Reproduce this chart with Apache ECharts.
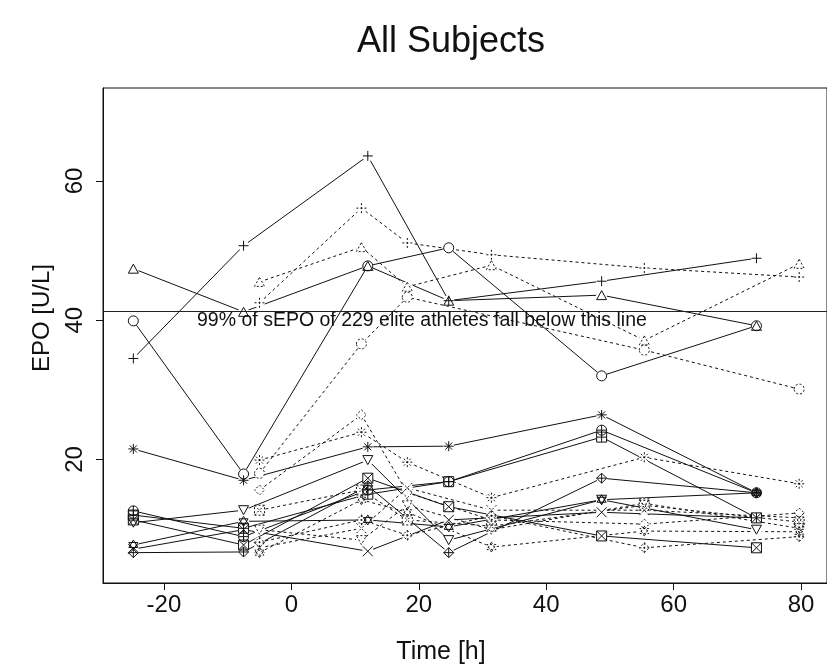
<!DOCTYPE html>
<html>
<head>
<meta charset="utf-8">
<script src="https://cdn.jsdelivr.net/npm/echarts@6/dist/echarts.min.js"></script>
<style>html,body{margin:0;padding:0;background:#fff}#c{width:827px;height:666px}</style>
</head>
<body>
<div id="c"></div>
<script>
// Sampling times (h)
const solidTimes  = [-24.8, -7.5, 12, 24.7, 48.7, 73];
const dottedTimes = [-5, 11, 18.2, 31.4, 55.4, 79.7];

// EPO [U/L] for subjects drawn with solid lines
const sTriangle = [47.4, 41.2, 47.8, 42.8, 43.6, 39.2];
const sCircle   = [39.9, 17.9, 47.8, 50.4, 32.0, 39.2];
const sPlus     = [34.5, 50.7, 63.6, 42.8, 45.6, 48.9];
const sStar     = [21.5, 17.0, 21.8, 21.9, 26.4, 15.2];
const sCirclePlus = [12.6, 8.9, 15.6, 16.8, 24.2, 15.2];
const sSquarePlus = [12.0, 10.1, 15.0, 16.8, 23.2, 11.6];
const sSquareX  = [11.3, 7.7, 17.3, 13.2, 9.0, 7.3];
const sDown     = [10.9, 12.7, 19.9, 8.4, 14.2, 9.9];
const sDavid    = [7.7, 11.1, 11.3, 10.3, 14.2, 15.2];
const sCross    = [7.1, 9.9, 6.8, 11.3, 12.4, 11.6];
const sDiamondPlus = [6.6, 6.7, 16.2, 6.6, 17.3, 15.2];

// EPO [U/L] for subjects drawn with dotted lines
const dPlus     = [42.5, 56.1, 51.1, 49.4, 47.5, 46.2];
const dTriangle = [45.5, 50.5, 44.8, 47.9, 37.1, 48.1];
const dCircle   = [18.0, 36.6, 43.3, null, 35.7, 30.1];
const dStar     = [19.9, 23.9, 19.6, 14.5, 20.3, 16.5];
const dDiamond  = [15.6, 26.4, 15.2, 11.3, 10.7, 12.3];
const dSquareX  = [12.7, 15.6, 11.3, 10.4, 13.4, 11.0];
const dDown     = [9.9, 8.4, 13.4, 9.9, 13.7, 10.1];
const dDiamondPlus = [8.1, 11.3, 9.1, 11.9, 7.3, 8.9];
const dDavid    = [6.6, 14.2, 12.4, 7.4, 9.7, 9.6];
const dCross    = [7.3, 10.1, 15.9, 12.7, 12.7, 11.6];

// Reference threshold
const refValue = 41.3;
const refText = '99% of sEPO of 229 elite athletes fall below this line';
const xTicks = [-20, 0, 20, 40, 60, 80];
const yTicks = [20, 40, 60];
const titleText = 'All Subjects';
const xName = 'Time [h]';
const yName = 'EPO [U/L]';

const SYM = {
  circle: 'path://M0,5A5,5,0,1,1,10,5A5,5,0,1,1,0,5Z',
  triangle: 'path://M5,0L10,9L0,9Z',
  plus: 'path://M5,0L5,10M0,5L10,5',
  cross: 'path://M0,0L10,10M10,0L0,10',
  diamond: 'path://M5,0L10,5L5,10L0,5Z',
  down: 'path://M0,0L10,0L5,9Z',
  squareX: 'path://M0,0L10,0L10,10L0,10ZM0,0L10,10M10,0L0,10',
  star: 'path://M5,0L5,10M0,5L10,5M1.5,1.5L8.5,8.5M8.5,1.5L1.5,8.5',
  diamondPlus: 'path://M5,0L10,5L5,10L0,5ZM5,0L5,10M0,5L10,5',
  circlePlus: 'path://M0,5A5,5,0,1,1,10,5A5,5,0,1,1,0,5ZM5,0L5,10M0,5L10,5',
  david: 'path://M5,0L9.5,7.5L0.5,7.5ZM5,10L0.5,2.5L9.5,2.5Z',
  squarePlus: 'path://M0,0L10,0L10,10L0,10ZM5,0L5,10M0,5L10,5'
};

const subjects = [
  {v: sTriangle, s: 'triangle', d: false},
  {v: sCircle, s: 'circle', d: false},
  {v: sPlus, s: 'plus', d: false},
  {v: sStar, s: 'star', d: false},
  {v: sCirclePlus, s: 'circlePlus', d: false},
  {v: sSquarePlus, s: 'squarePlus', d: false},
  {v: sSquareX, s: 'squareX', d: false},
  {v: sDown, s: 'down', d: false},
  {v: sDavid, s: 'david', d: false},
  {v: sCross, s: 'cross', d: false},
  {v: sDiamondPlus, s: 'diamondPlus', d: false},
  {v: dPlus, s: 'plus', d: true},
  {v: dTriangle, s: 'triangle', d: true},
  {v: dCircle, s: 'circle', d: true},
  {v: dStar, s: 'star', d: true},
  {v: dDiamond, s: 'diamond', d: true},
  {v: dSquareX, s: 'squareX', d: true},
  {v: dDown, s: 'down', d: true},
  {v: dDiamondPlus, s: 'diamondPlus', d: true},
  {v: dDavid, s: 'david', d: true},
  {v: dCross, s: 'cross', d: true}
];

const FONT = 'Liberation Sans, Arial, Helvetica, sans-serif';
const series = [];
const discs = [];
subjects.forEach((sub, i) => {
  const t = sub.d ? dottedTimes : solidTimes;
  const pts = t.map((x, k) => [x, sub.v[k]]).filter(p => p[1] != null);
  series.push({
    type: 'line', data: pts, showSymbol: false, connectNulls: true,
    silent: true, animation: false, z: 2,
    lineStyle: {color: '#111', width: 1, type: sub.d ? [3, 3] : 'solid'}
  });
  pts.forEach(p => discs.push(p));
  series.push({
    type: 'scatter', data: pts, symbol: SYM[sub.s], symbolSize: 10,
    symbolKeepAspect: true, silent: true, animation: false, z: 4,
    itemStyle: {color: 'rgba(0,0,0,0)', borderColor: '#111', borderWidth: 1,
      borderType: sub.d ? [2, 2] : 'solid', opacity: 1}
  });
});
series.push({
  type: 'scatter', data: discs, symbol: 'circle', symbolSize: 11,
  silent: true, animation: false, z: 3,
  itemStyle: {color: '#fff', opacity: 1}
});
series.push({
  type: 'line', data: [], silent: true, animation: false,
  markLine: {
    silent: true, symbol: 'none', animation: false,
    lineStyle: {color: '#222', width: 1, type: 'solid'},
    label: {show: false},
    data: [{yAxis: refValue}]
  }
});

const chart = echarts.init(document.getElementById('c'), null, {renderer: 'canvas'});
chart.setOption({
  backgroundColor: '#fff',
  animation: false,
  grid: {left: 103, right: -1, top: 88, bottom: 83, show: true,
         borderColor: '#111', borderWidth: 1, backgroundColor: 'transparent'},
  xAxis: {
    type: 'value', min: -29.56, max: 84.07,
    axisLine: {show: true, onZero: false, lineStyle: {color: '#111', width: 1}},
    axisTick: {show: true, inside: false, length: 7, customValues: xTicks,
               lineStyle: {color: '#111'}},
    axisLabel: {customValues: xTicks, fontFamily: FONT, fontSize: 24, color: '#111', margin: 10},
    splitLine: {show: false}
  },
  yAxis: {
    type: 'value', min: 2.24, max: 73.36,
    axisLine: {show: true, onZero: false, lineStyle: {color: '#111', width: 1}},
    axisTick: {show: true, inside: false, length: 7, customValues: yTicks,
               lineStyle: {color: '#111'}},
    axisLabel: {customValues: yTicks, rotate: 90, fontFamily: FONT, fontSize: 24,
                color: '#111', margin: 16},
    splitLine: {show: false}
  },
  graphic: [
    {type: 'text', x: 451, y: 42, z: 100, silent: true,
     style: {text: titleText, fontFamily: FONT, fontSize: 36, fill: '#111',
             align: 'center', verticalAlign: 'middle'}},
    {type: 'text', x: 441, y: 652, z: 100, silent: true,
     style: {text: xName, fontFamily: FONT, fontSize: 25, fill: '#111',
             align: 'center', verticalAlign: 'middle'}},
    {type: 'text', x: 42, y: 318, z: 100, silent: true, rotation: Math.PI / 2,
     style: {text: yName, fontFamily: FONT, fontSize: 24, fill: '#111',
             align: 'center', verticalAlign: 'middle'}},
    {type: 'text', x: 197, y: 311, z: 100, silent: true,
     style: {text: refText, fontFamily: FONT, fontSize: 19.5, fill: '#111'}}
  ],
  series: series
});
</script>
</body>
</html>
